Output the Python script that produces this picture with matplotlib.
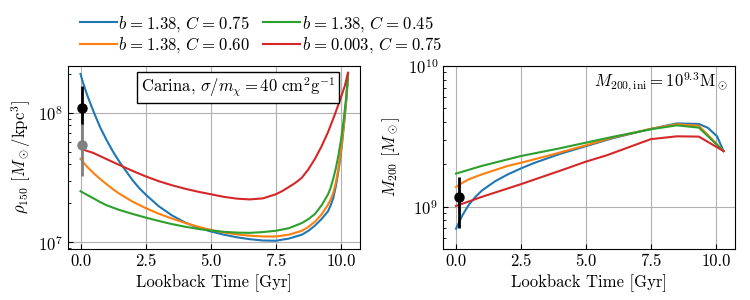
import numpy as np
import matplotlib
matplotlib.use("Agg")
import matplotlib.pyplot as plt

plt.rcParams['font.family'] = 'serif'
plt.rcParams['font.serif'] = ['cmr10']
plt.rcParams['mathtext.fontset'] = 'cm'
plt.rcParams['axes.formatter.use_mathtext'] = True
plt.rcParams['font.size'] = 12

labels = [r'$b\hspace{0.08}=\hspace{0.08}1.38,\,C\hspace{0.08}=\hspace{0.08}0.75$',
          r'$b\hspace{0.08}=\hspace{0.08}1.38,\,C\hspace{0.08}=\hspace{0.08}0.60$',
          r'$b\hspace{0.08}=\hspace{0.08}1.38,\,C\hspace{0.08}=\hspace{0.08}0.45$',
          r'$b\hspace{0.08}=\hspace{0.08}0.003,\,C\hspace{0.08}=\hspace{0.08}0.75$']
colors = ['C0', 'C1', 'C2', 'C3']

# ---- left panel: rho_150 (log10 values) ----
t_blue_l = [0, 0.1, 0.25, 0.5, 0.75, 1.0, 1.25, 1.5, 1.75, 2.0, 2.25, 2.5, 3.0, 3.5, 4.0, 4.5, 5.0, 5.5, 6.0, 6.5, 7.0, 7.5, 8.0,
            8.5, 8.75, 9.0, 9.25, 9.5, 9.6, 9.7, 9.8, 9.9, 10.0, 10.05, 10.1, 10.15, 10.2, 10.25, 10.27]
r_blue_l = [8.30, 8.23, 8.14, 8.01, 7.89, 7.79, 7.70, 7.62, 7.55, 7.48, 7.42, 7.37, 7.28, 7.21, 7.155, 7.115, 7.085, 7.06, 7.04, 7.025, 7.015, 7.013, 7.03,
            7.06, 7.09, 7.13, 7.18, 7.24, 7.285, 7.34, 7.43, 7.55, 7.69, 7.78, 7.88, 7.98, 8.09, 8.22, 8.30]
t_orange_l = [0, 0.1, 0.25, 0.5, 0.75, 1.0, 1.25, 1.5, 2.0, 2.5, 3.0, 3.5, 4.0, 4.5, 5.0, 5.5, 6.0, 6.5, 7.0, 7.5, 8.0,
              8.5, 8.75, 9.0, 9.25, 9.5, 9.6, 9.7, 9.8, 9.9, 10.0, 10.1, 10.2, 10.27]
r_orange_l = [7.645, 7.62, 7.585, 7.535, 7.49, 7.45, 7.41, 7.375, 7.315, 7.265, 7.222, 7.185, 7.152, 7.122, 7.097, 7.077, 7.062, 7.052, 7.046, 7.046, 7.06,
              7.09, 7.12, 7.16, 7.215, 7.29, 7.33, 7.38, 7.46, 7.57, 7.71, 7.89, 8.10, 8.30]
t_green_l = [0, 0.25, 0.5, 0.75, 1.0, 1.5, 2.0, 2.5, 3.0, 3.5, 4.0, 4.5, 5.0, 5.5, 6.0, 6.5, 7.0, 7.5, 8.0,
             8.5, 8.75, 9.0, 9.25, 9.5, 9.6, 9.7, 9.8, 9.9, 10.0, 10.1, 10.2, 10.27]
r_green_l = [7.395, 7.367, 7.34, 7.312, 7.287, 7.25, 7.22, 7.192, 7.166, 7.142, 7.122, 7.105, 7.092, 7.082, 7.076, 7.074, 7.08, 7.09, 7.11,
             7.15, 7.18, 7.22, 7.285, 7.37, 7.42, 7.49, 7.57, 7.67, 7.79, 7.94, 8.12, 8.30]
t_red_l = [0.05, 0.5, 1.0, 1.5, 2.0, 2.5, 3.0, 3.5, 4.0, 4.5, 5.0, 5.5, 6.0, 6.5, 7.0, 7.5, 7.75, 8.0, 8.25,
           8.5, 8.75, 9.0, 9.25, 9.5, 9.75, 10.0, 10.15, 10.27]
r_red_l = [7.72, 7.69, 7.643, 7.597, 7.552, 7.51, 7.473, 7.442, 7.415, 7.392, 7.372, 7.352, 7.338, 7.332, 7.34, 7.372, 7.397, 7.428, 7.46,
           7.50, 7.565, 7.645, 7.74, 7.85, 7.98, 8.12, 8.21, 8.31]

# observations (left)
obs1_t, obs1_v, obs1_lo, obs1_hi = 0.05, 1.09e8, 8.0e7, 1.6e8
obs2_t, obs2_v, obs2_lo, obs2_hi = 0.05, 5.7e7, 3.27e7, 8.2e7

# ---- right panel: M200 (log10 values) ----
t_blue_r = [0, 0.25, 0.5, 0.75, 1.0, 1.5, 2.0, 2.5, 3.0, 4.0, 5.0, 6.0, 7.5, 8.5, 9.35, 9.7, 10.05, 10.3]
m_blue_r = [8.843, 8.94, 9.015, 9.07, 9.115, 9.18, 9.23, 9.272, 9.31, 9.375, 9.43, 9.485, 9.553, 9.592, 9.588, 9.56, 9.50, 9.395]
t_orange_r = [0, 0.25, 0.5, 1.0, 1.5, 2.0, 2.5, 3.5, 5.0, 6.0, 7.5, 8.5, 9.35, 10.3]
m_orange_r = [9.14, 9.17, 9.195, 9.23, 9.26, 9.29, 9.312, 9.36, 9.436, 9.49, 9.553, 9.586, 9.575, 9.395]
t_green_r = [0, 1.0, 2.5, 4.0, 5.0, 6.0, 7.5, 8.5, 9.35, 10.3]
m_green_r = [9.235, 9.29, 9.36, 9.415, 9.455, 9.495, 9.55, 9.578, 9.562, 9.395]
t_red_r = [0, 1.0, 2.5, 4.0, 5.0, 5.8, 7.5, 8.5, 9.35, 10.3]
m_red_r = [9.005, 9.07, 9.16, 9.255, 9.32, 9.365, 9.48, 9.50, 9.498, 9.395]

obs3_t, obs3_v, obs3_lo, obs3_hi = 0.1, 1.17e9, 7.05e8, 1.63e9

fig = plt.figure(figsize=(7.5, 3.0), dpi=100)
ax1 = fig.add_axes([0.0907, 0.17, 0.3893, 0.61])
ax2 = fig.add_axes([0.5907, 0.17, 0.3893, 0.61])

left_sets = [(t_blue_l, r_blue_l), (t_orange_l, r_orange_l), (t_green_l, r_green_l), (t_red_l, r_red_l)]
handles = []
for (t, r), c, lab in zip(left_sets, colors, labels):
    h, = ax1.plot(t, 10 ** np.array(r), color=c, lw=1.5, label=lab)
    handles.append(h)

ax1.errorbar([obs1_t], [obs1_v], yerr=[[obs1_v - obs1_lo], [obs1_hi - obs1_v]],
             fmt='o', color='black', ms=6.5, elinewidth=2, zorder=5)
ax1.errorbar([obs2_t], [obs2_v], yerr=[[obs2_v - obs2_lo], [obs2_hi - obs2_v]],
             fmt='o', color='grey', ms=6.5, elinewidth=2, zorder=6)

right_sets = [(t_blue_r, m_blue_r), (t_orange_r, m_orange_r), (t_green_r, m_green_r), (t_red_r, m_red_r)]
for (t, m), c in zip(right_sets, colors):
    ax2.plot(t, 10 ** np.array(m), color=c, lw=1.5)
ax2.errorbar([obs3_t], [obs3_v], yerr=[[obs3_v - obs3_lo], [obs3_hi - obs3_v]],
             fmt='o', color='black', ms=6.5, elinewidth=2, zorder=5)

for ax in (ax1, ax2):
    ax.set_yscale('log')
    ax.grid(True, which='major', color='#b0b0b0', lw=0.8)
    ax.tick_params(which='both', direction='in')
    ax.set_xticks([0, 2.5, 5.0, 7.5, 10.0])
    ax.set_xticklabels(['0.0', '2.5', '5.0', '7.5', '10.0'])
    ax.set_xlabel('Lookback Time [Gyr]')

ax1.set_xlim(-0.48, 10.73)
ax1.set_ylim(8.9e6, 2.3e8)
ax2.set_xlim(-0.5, 10.74)
ax2.set_ylim(5e8, 1e10)

ax1.set_ylabel(r'$\rho_{150}$ $[M_\odot/\mathrm{kpc}^3]$')
ax2.set_ylabel(r'$M_{200}$ $[M_\odot]$')

ax1.text(0.915, 0.948, r'Carina, $\sigma/m_\chi = 40\ \mathrm{cm^2g^{-1}}$',
         transform=ax1.transAxes, ha='right', va='top',
         bbox=dict(boxstyle='square,pad=0.22', facecolor='white', edgecolor='black', lw=1))
ax2.text(0.973, 0.913, r'$M_{200,\rm ini} = 10^{9.3}\rm M_\odot$',
         transform=ax2.transAxes, ha='right', va='center')

fig.legend(handles=handles, loc='upper left', bbox_to_anchor=(0.091, 0.993),
           ncol=2, frameon=False, handlelength=2.2, handletextpad=0.1,
           columnspacing=0.8, labelspacing=0.1, borderaxespad=0.3)

fig.savefig('out.png', dpi=100)
